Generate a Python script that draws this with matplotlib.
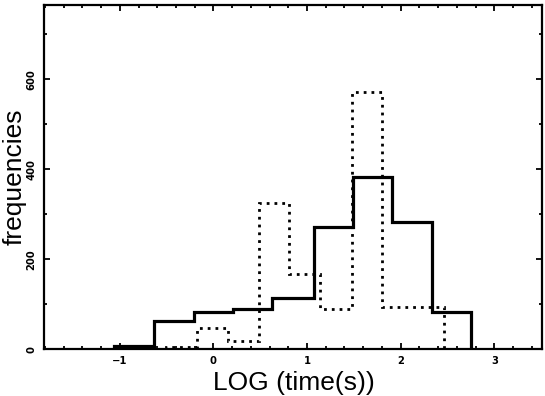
import numpy as np
import matplotlib
matplotlib.use('Agg')
import matplotlib.pyplot as plt
from matplotlib.ticker import MultipleLocator

# histogram data
solid_edges = [-1.06, -0.64, -0.21, 0.21, 0.63, 1.07, 1.49, 1.91, 2.33, 2.75]
solid_counts = [7, 62, 84, 89, 113, 272, 384, 284, 82]

dotted_edges = [-0.51, -0.18, 0.16, 0.49, 0.81, 1.14, 1.48, 1.80, 2.13, 2.46]
dotted_counts = [6, 48, 18, 325, 167, 89, 572, 93, 93]

x_ticks = [-1, 0, 1, 2, 3]
x_ticklabels = ['\u22121', '0', '1', '2', '3']
y_ticks = [0, 200, 400, 600]
y_ticklabels = ['0', '200', '400', '600']

fig = plt.figure(figsize=(5.45, 3.96), dpi=100)
ax = fig.add_axes([0.0807, 0.1179, 0.9138, 0.8703])

ax.stairs(dotted_counts, dotted_edges, baseline=0, color='black',
          linewidth=2.0, linestyle=(0, (1, 1.8)))
ax.stairs(solid_counts, solid_edges, baseline=0, color='black',
          linewidth=2.3)

ax.set_xlim(-1.81, 3.51)
ax.set_ylim(0, 766)

ax.set_xticks(x_ticks)
ax.set_xticklabels(x_ticklabels)
ax.set_yticks(y_ticks)
ax.set_yticklabels(y_ticklabels, rotation=90, va='center')
ax.xaxis.set_minor_locator(MultipleLocator(0.2))
ax.yaxis.set_minor_locator(MultipleLocator(100))

for lab in ax.get_xticklabels() + ax.get_yticklabels():
    lab.set_fontfamily('DejaVu Sans')
    lab.set_fontweight('bold')
    lab.set_fontsize(7.2)

ax.tick_params(which='both', direction='in', top=True, right=True,
               width=1.3, color='black')
ax.tick_params(which='major', length=4.5)
ax.tick_params(which='minor', length=2.2)
ax.tick_params(axis='x', which='major', pad=4.5)
ax.tick_params(axis='y', which='major', pad=5.5)

for sp in ax.spines.values():
    sp.set_linewidth(1.6)

fig.text(0.5385, 1 - 390 / 396, 'LOG (time(s))', ha='center', va='baseline',
         fontsize=19, family='Liberation Sans')
fig.text(0.026, 1 - 177 / 396, 'frequencies', ha='center', va='center',
         rotation=90, fontsize=19, family='Liberation Sans')

fig.savefig('out.png', dpi=100)
